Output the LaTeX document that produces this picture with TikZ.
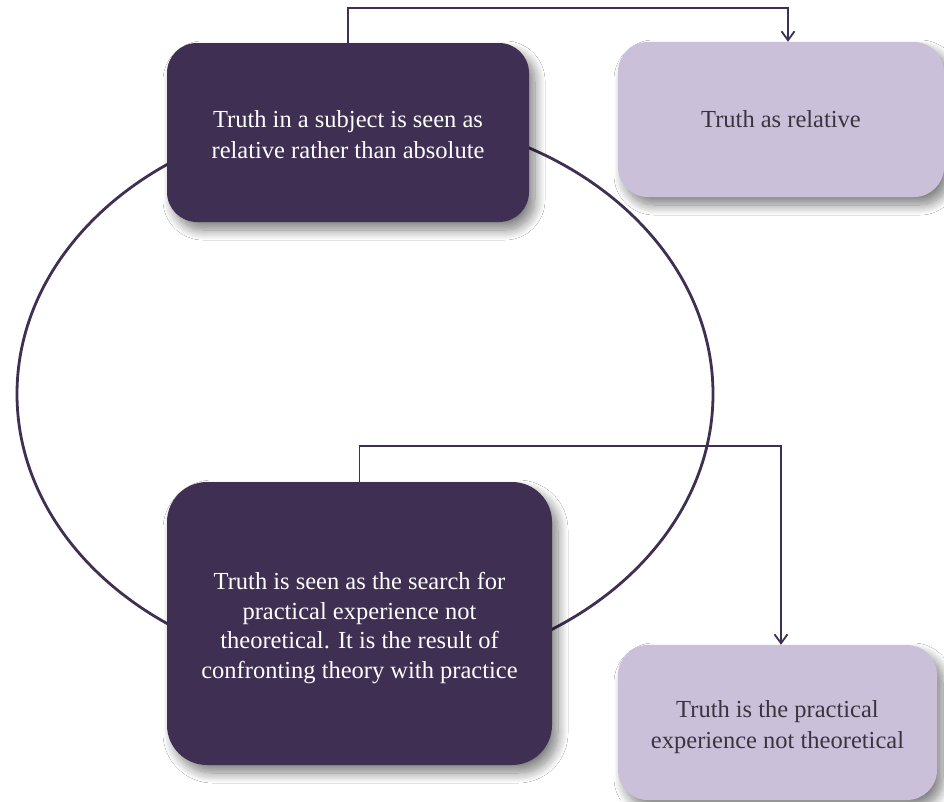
\documentclass[tikz,border=0pt]{standalone}
\usepackage{fontspec}
\setmainfont{Liberation Serif}
\usetikzlibrary{shadows.blur,arrows.meta}
\definecolor{deep}{RGB}{63,47,82}
\definecolor{pale}{RGB}{203,192,218}
\definecolor{ink}{RGB}{58,52,62}
\tikzset{
  boxbase/.style={rounded corners=30pt, inner sep=0pt, align=center,
    font=\fontsize{24.5}{30.5}\selectfont,
    blur shadow={shadow xshift=6pt, shadow yshift=-8pt, shadow blur steps=14, shadow opacity=50, shadow blur radius=10pt}},
  darkbox/.style={boxbase, fill=deep, text=white},
  lightbox/.style={boxbase, fill=pale, text=ink},
  conn/.style={draw=deep, line width=1.9pt, -{Straight Barb[length=9pt,width=13pt,line width=1.8pt]}},
  ring/.style={draw=deep, line width=2.8pt}
}
\begin{document}
\begin{tikzpicture}[x=1pt,y=-1pt]
\useasboundingbox (0,0) rectangle (944,801);
\fill[white] (0,0) rectangle (944,801);

% the cycle behind the two main boxes
\draw[ring] (365,394) ellipse [x radius=348, y radius=279];

% main statements
\node[darkbox, minimum width=362pt, minimum height=179pt] (td) at (348,132.5) {};
\node[text=white, align=center, font=\fontsize{24.5}{31}\selectfont] (tdtext) at (348,134.5)
  {Truth in a subject is seen as\\relative rather than absolute};
\node[darkbox, minimum width=385pt, minimum height=283pt, rounded corners=40pt] (bd) at (359.5,623.5) {};
\node[text=white, align=center, font=\fontsize{24.5}{29.5}\selectfont] (bdtext) at (359.5,628)
  {Truth is seen as the search for\\practical experience not\\theoretical. It is the result of\\confronting theory with practice};

% conclusions
\node[lightbox, minimum width=326pt, minimum height=155pt] (tl) at (781,119.5)
  {Truth as relative};
\node[lightbox, minimum width=319pt, minimum height=155pt] (bl) at (777.5,722.5) {};
\node[text=ink, align=center, font=\fontsize{24.5}{31.5}\selectfont] (bltext) at (777.5,727)
  {Truth is the practical\\experience not theoretical};

% links from statements to conclusions
\draw[conn] (td.north) -- ++(0,-35) -| ([xshift=7pt]tl.north);
\draw[conn] (bd.north) -- ++(0,-36) -| ([xshift=3.5pt]bl.north);
\end{tikzpicture}
\end{document}
